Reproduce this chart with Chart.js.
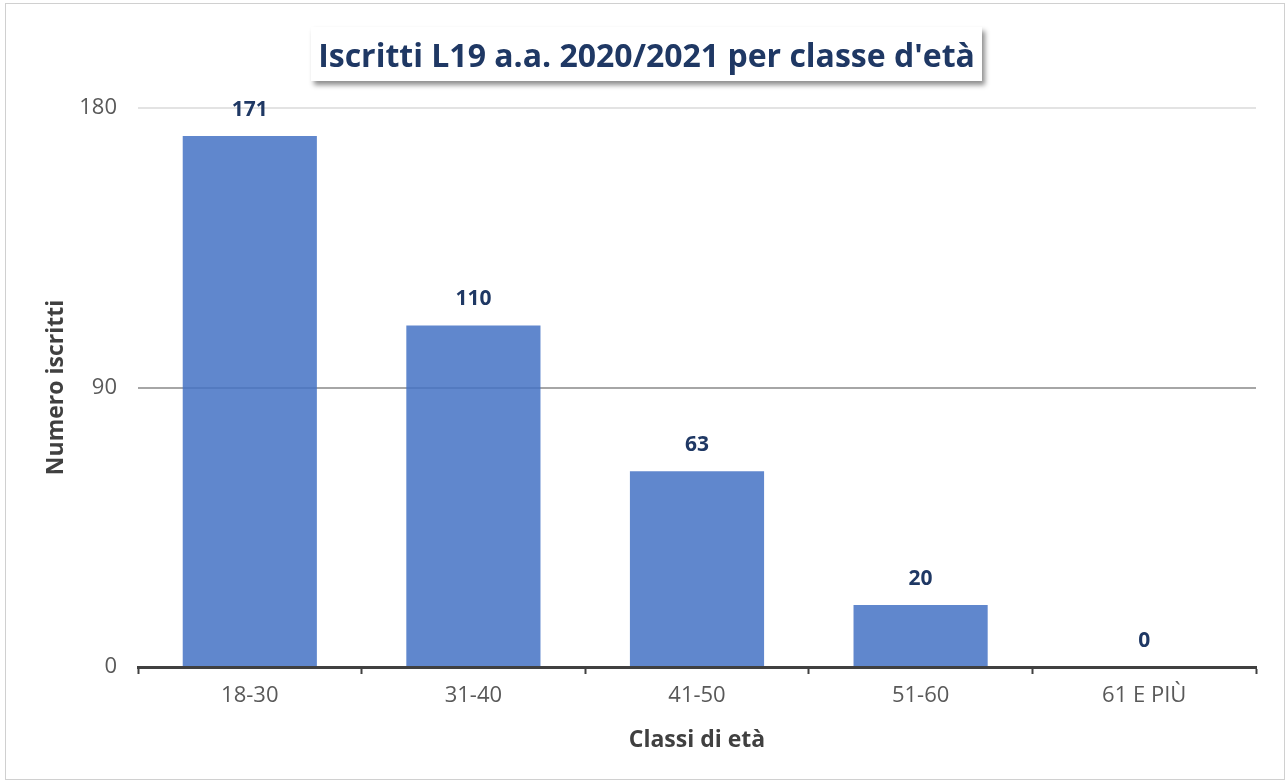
<!DOCTYPE html>
<html lang="it">
<head>
  <meta charset="UTF-8" />
  <title>Iscritti L19 per classe d'età</title>
  <script src="https://cdn.jsdelivr.net/npm/chart.js"></script>
  <style>
    body {
      margin: 0;
      background: #fff;
      font-family: "Open Sans", Arial, sans-serif;
    }
    #frame {
      position: absolute;
      left: 5px;
      top: 3px;
      width: 1278px;
      height: 775px;
      border: 1px solid #d0d0d0;
    }
    canvas {
      position: absolute;
      left: 0;
      top: 0;
    }
    #title {
      position: absolute;
      left: 311px;
      top: 27px;
      width: 671px;
      height: 54px;
      line-height: 56px;
      background: #fff;
      box-shadow: 3px 4px 5px rgba(0,0,0,0.45);
      text-align: center;
      font-weight: bold;
      font-size: 32px;
      color: #1f3864;
      white-space: nowrap;
    }
  </style>
</head>
<body>
  <div id="frame"></div>
  <canvas id="chart" width="1286" height="781"></canvas>
  <div id="title">Iscritti L19 a.a. 2020/2021 per classe d'età</div>

  <script>
    const categories = ['18-30', '31-40', '41-50', '51-60', '61 E PIÙ'];
    const iscritti = [171, 110, 63, 20, 0];
    const yTicks = [0, 90, 180];

    // etichette sopra le barre
    const barLabels = {
      id: 'barLabels',
      afterDatasetsDraw(chart) {
        const ctx = chart.ctx;
        const meta = chart.getDatasetMeta(0);
        ctx.save();
        ctx.font = 'bold 21px "Open Sans", Arial, sans-serif';
        ctx.fillStyle = '#1f3864';
        ctx.textAlign = 'center';
        ctx.textBaseline = 'middle';
        meta.data.forEach((bar, i) => {
          ctx.fillText(String(iscritti[i]), bar.x, bar.y - 26);
        });
        ctx.restore();
      }
    };

    const ctx = document.getElementById('chart').getContext('2d');
    new Chart(ctx, {
      type: 'bar',
      data: {
        labels: categories,
        datasets: [{
          label: 'Numero iscritti',
          data: iscritti,
          backgroundColor: 'rgba(68,114,196,0.85)',
          categoryPercentage: 0.6,
          barPercentage: 1.0
        }]
      },
      options: {
        responsive: false,
        animation: false,
        layout: {
          padding: { left: 30, right: 30, top: 108, bottom: 20 }
        },
        plugins: {
          legend: { display: false },
          tooltip: { enabled: false },
          title: { display: false }
        },
        scales: {
          x: {
            afterFit(scale) { scale.height = 94; },
            grid: {
              offset: true,
              drawOnChartArea: false,
              drawTicks: true,
              tickLength: 7,
              tickWidth: 2,
              tickColor: '#404040'
            },
            border: { display: true, color: '#404040', width: 3 },
            ticks: {
              color: '#595959',
              font: { size: 22, family: '"Open Sans", Arial, sans-serif' },
              padding: 9
            },
            title: {
              display: true,
              text: 'Classi di età',
              color: '#404040',
              font: { size: 23, weight: 'bold', family: '"Open Sans", Arial, sans-serif' },
              padding: { top: 0, bottom: 7 }
            }
          },
          y: {
            min: 0,
            max: 180,
            afterFit(scale) { scale.width = 108; },
            afterBuildTicks(scale) {
              scale.ticks = yTicks.map(v => ({ value: v }));
            },
            grid: {
              drawTicks: false,
              color(c) {
                if (c.tick.value === 0) return 'rgba(0,0,0,0)';
                if (c.tick.value === 90) return '#a6a6a6';
                return '#e3e3e3';
              },
              lineWidth: 2
            },
            border: { display: false },
            ticks: {
              color: '#595959',
              font: { size: 22, family: '"Open Sans", Arial, sans-serif' },
              padding: 21
            },
            title: {
              display: true,
              text: 'Numero iscritti',
              color: '#404040',
              font: { size: 23, weight: 'bold', family: '"Open Sans", Arial, sans-serif' },
              padding: { top: 13, bottom: 0 }
            }
          }
        }
      },
      plugins: [barLabels]
    });
  </script>
</body>
</html>
